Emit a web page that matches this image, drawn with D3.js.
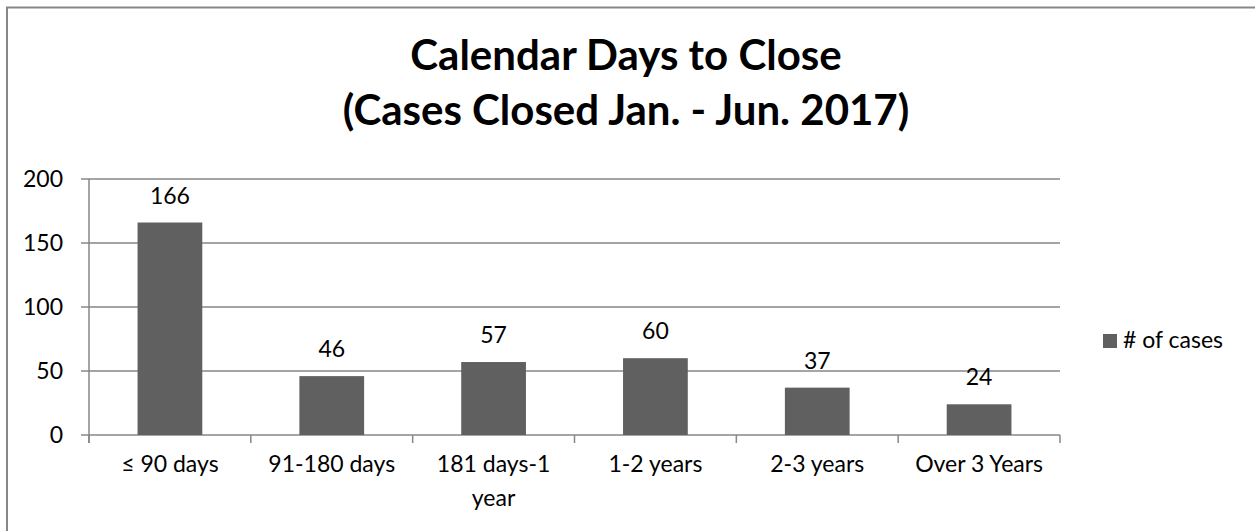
<!DOCTYPE html>
<html>
  <head>
    <title>Calendar Days to Close</title>
    <style type="text/css">
        body { margin: 0; background: #fff; }
        svg { display: block; font-family: Lato, "Open Sans", sans-serif; }
    </style>
  </head>
  <body>
    <svg width="1255" height="531"></svg>
    <script src="https://d3js.org/d3.v7.min.js"></script>
    <script>

    // Chart data
    var categories = ["≤ 90 days", "91-180 days", "181 days-1 year", "1-2 years", "2-3 years", "Over 3 Years"];
    var cases = [166, 46, 57, 60, 37, 24];
    var yTicks = [0, 50, 100, 150, 200];
    var titleLines = ["Calendar Days to Close", "(Cases Closed Jan. - Jun. 2017)"];
    var seriesName = "# of cases";

    var svg = d3.select("svg");
    var grey = "#878787",
        barColor = "#606060";

    // Outer chart border (right and bottom fall outside the picture)
    svg.append("rect")
        .attr("x", 7)
        .attr("y", 7.5)
        .attr("width", 1300)
        .attr("height", 600)
        .attr("fill", "none")
        .attr("stroke", grey)
        .attr("stroke-width", 2);

    // Title
    svg.append("g").selectAll("text")
      .data(titleLines)
      .enter().append("text")
        .attr("x", 626)
        .attr("y", function(d, i) { return 70 + i * 55; })
        .attr("text-anchor", "middle")
        .attr("font-size", 42)
        .attr("font-weight", "bold")
        .attr("fill", "#000")
        .text(function(d) { return d; });

    var x = d3.scaleBand()
        .domain(categories)
        .range([89, 1060])
        .paddingInner(0.6)
        .paddingOuter(0.3);

    var y = d3.scaleLinear()
        .domain([0, 200])
        .range([435, 179]);

    // Gridlines
    svg.append("g").selectAll("line")
      .data(yTicks)
      .enter().append("line")
        .attr("x1", 81)
        .attr("x2", 1060)
        .attr("y1", function(d) { return y(d); })
        .attr("y2", function(d) { return y(d); })
        .attr("stroke", grey)
        .attr("stroke-width", 1.5);

    // Y axis line
    svg.append("line")
        .attr("x1", 89).attr("x2", 89)
        .attr("y1", y(200)).attr("y2", y(0) + 8)
        .attr("stroke", grey)
        .attr("stroke-width", 1.5);

    // Y labels
    svg.append("g").selectAll("text")
      .data(yTicks)
      .enter().append("text")
        .attr("x", 63)
        .attr("y", function(d) { return y(d) + 8; })
        .attr("text-anchor", "end")
        .attr("font-size", 23)
        .text(function(d) { return d; });

    // X ticks at category boundaries
    var step = x.step();
    var bounds = d3.range(categories.length + 1).map(function(i) { return 89 + i * (971 / categories.length); });
    svg.append("g").selectAll("line")
      .data(bounds)
      .enter().append("line")
        .attr("x1", function(d) { return d; })
        .attr("x2", function(d) { return d; })
        .attr("y1", y(0))
        .attr("y2", y(0) + 8)
        .attr("stroke", grey)
        .attr("stroke-width", 1.5);

    // Bars
    svg.append("g").selectAll("rect")
      .data(cases)
      .enter().append("rect")
        .attr("x", function(d, i) { return x(categories[i]); })
        .attr("y", function(d) { return y(d); })
        .attr("width", x.bandwidth())
        .attr("height", function(d) { return y(0) - y(d); })
        .attr("fill", barColor);

    // Data labels
    svg.append("g").selectAll("text")
      .data(cases)
      .enter().append("text")
        .attr("x", function(d, i) { return x(categories[i]) + x.bandwidth() / 2; })
        .attr("y", function(d) { return y(d) - 19; })
        .attr("text-anchor", "middle")
        .attr("font-size", 23)
        .text(function(d) { return d; });

    // Category labels, wrapped to the category width
    var catLabels = svg.append("g").selectAll("text")
      .data(categories)
      .enter().append("text")
        .attr("x", function(d) { return x(d) + x.bandwidth() / 2; })
        .attr("y", 472)
        .attr("text-anchor", "middle")
        .attr("font-size", 23);

    catLabels.each(function(d) {
        var t = d3.select(this),
            words = d.split(" "),
            line = [],
            tspan = t.append("tspan").attr("x", t.attr("x")).attr("dy", 0);
        words.forEach(function(w) {
            line.push(w);
            tspan.text(line.join(" "));
            if (tspan.node().getComputedTextLength() > step - 4 && line.length > 1) {
                line.pop();
                tspan.text(line.join(" "));
                line = [w];
                tspan = t.append("tspan").attr("x", t.attr("x")).attr("dy", 34).text(w);
            }
        });
    });

    // Legend
    var legend = svg.append("g");
    legend.append("rect")
        .attr("x", 1103)
        .attr("y", 334)
        .attr("width", 14)
        .attr("height", 14)
        .attr("fill", barColor);
    legend.append("text")
        .attr("x", 1123)
        .attr("y", 348)
        .attr("font-size", 23)
        .text(seriesName);

    </script>
  </body>
</html>
